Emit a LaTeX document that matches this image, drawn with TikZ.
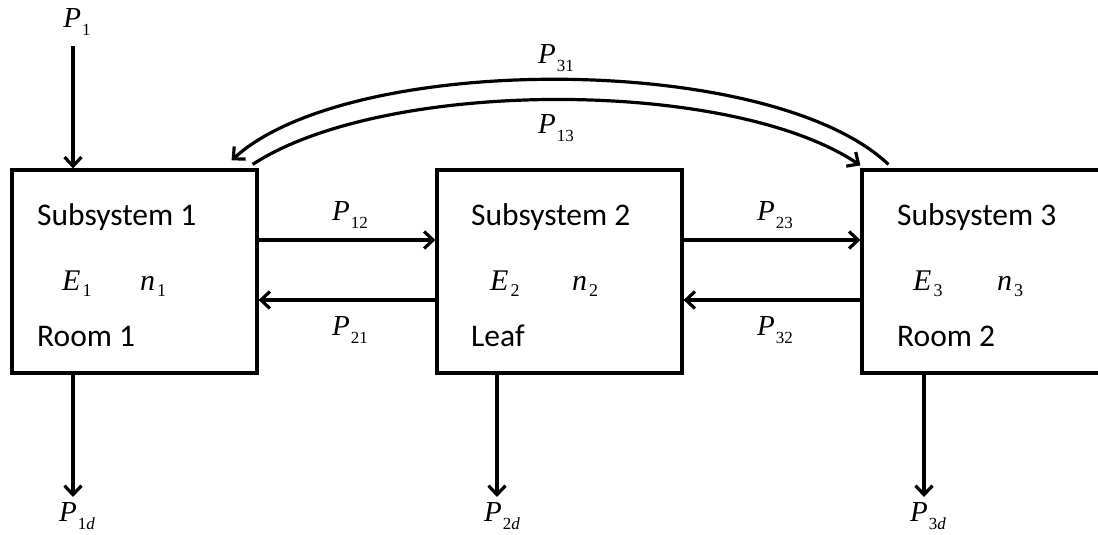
\documentclass[tikz,border=0pt]{standalone}
\usepackage{fontspec}
\setmainfont{Liberation Serif}
\newfontfamily\calib{Carlito}
\usetikzlibrary{arrows.meta}
\newcommand{\Psub}[1]{\textit{P}\kern1pt\raisebox{-8pt}{\fontsize{17}{17}\selectfont #1}}
\newcommand{\Vsub}[2]{\textit{#1}\kern2pt\raisebox{-6pt}{\fontsize{18}{18}\selectfont #2}}
\begin{document}
\begin{tikzpicture}[x=1pt,y=-1pt,
  box/.style={draw,line width=3.2pt,rectangle,inner sep=0pt,minimum height=203pt},
  arr/.style={line width=3.2pt,-{Straight Barb[length=9pt,width=17pt,line width=3.2pt]}},
  plab/.style={inner sep=0pt,font=\fontsize{29}{29}\selectfont},
  vlab/.style={inner sep=0pt,anchor=base west,font=\fontsize{30}{30}\selectfont},
  tlab/.style={inner sep=0pt,anchor=base west,font=\calib\fontsize{31.5}{31.5}\selectfont}]
\useasboundingbox (0,0) rectangle (1098,535);
\clip (0,0) rectangle (1098,535);
\fill[white] (0,0) rectangle (1098,535);

\node[box,minimum width=245pt] (b1) at (134.5,271.5) {};
\node[box,minimum width=245pt] (b2) at (559.5,271.5) {};
\node[box,minimum width=260pt] (b3) at (992,271.5) {};

% texts in boxes
\node[tlab] (s1) at (37,225) {Subsystem 1};
\node[tlab] (r1) at (37,346) {Room 1};
\node[vlab] (e1) at (62,290) {\Vsub{E}{1}};
\node[vlab] (n1) at (140,290) {\Vsub{n}{1}};

\node[tlab] (s2) at (471,225) {Subsystem 2};
\node[tlab] (r2) at (471,346) {Leaf};
\node[vlab] (e2) at (490,290) {\Vsub{E}{2}};
\node[vlab] (n2) at (572,290) {\Vsub{n}{2}};

\node[tlab] (s3) at (897,225) {Subsystem 3};
\node[tlab] (r3) at (897,346) {Room 2};
\node[vlab] (e3) at (913,290) {\Vsub{E}{3}};
\node[vlab] (n3) at (997,290) {\Vsub{n}{3}};

% input P1
\node[plab] (p1) at (77,22) {\Psub{1}};
\coordinate (p1s) at (73,46);
\draw[arr] (p1s) -- (p1s |- b1.north);

% horizontal arrows
\draw[arr] ([yshift=31.5pt]b1.east) -- ([yshift=31.5pt]b2.west);
\draw[arr] ([yshift=-28.5pt]b2.west) -- ([yshift=-28.5pt]b1.east);
\draw[arr] ([yshift=31.5pt]b2.east) -- ([yshift=31.5pt]b3.west);
\draw[arr] ([yshift=-28.5pt]b3.west) -- ([yshift=-28.5pt]b2.east);
\node[plab] (p12) at (350,215) {\Psub{12}};
\node[plab] (p21) at (350,330) {\Psub{21}};
\node[plab] (p23) at (775,215) {\Psub{23}};
\node[plab] (p32) at (775,330) {\Psub{32}};

% top arcs
\draw[arr] ([xshift=28pt,yshift=4pt]b3.north west) .. controls (770,52) and (350,52) .. ([xshift=-27pt,yshift=8pt]b1.north east);
\draw[arr] ([xshift=-6pt,yshift=4pt]b1.north east) .. controls (385,78) and (730,78) .. ([yshift=3pt]b3.north west);
\node[plab] (p31) at (556,58) {\Psub{31}};
\node[plab] (p13) at (556,128) {\Psub{13}};

% outputs
\coordinate (o1) at (73,497);
\coordinate (o2) at (497,497);
\coordinate (o3) at (924,497);
\draw[arr] (o1 |- b1.south) -- (o1);
\draw[arr] (o2 |- b2.south) -- (o2);
\draw[arr] (o3 |- b3.south) -- (o3);
\node[plab] (p1d) at (77,516) {\Psub{1\textit{d}}};
\node[plab] (p2d) at (502,516) {\Psub{2\textit{d}}};
\node[plab] (p3d) at (928,516) {\Psub{3\textit{d}}};
\end{tikzpicture}
\end{document}
